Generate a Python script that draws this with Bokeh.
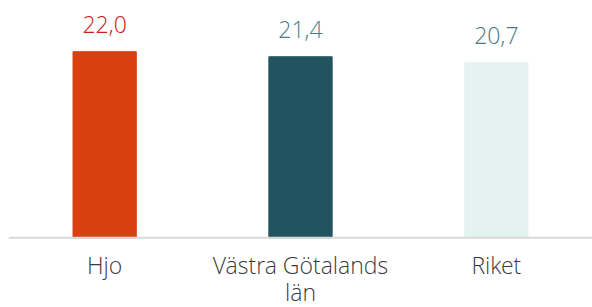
from bokeh.plotting import figure
from bokeh.models import ColumnDataSource, FactorRange, Range1d, Span
from bokeh.core.properties import value
from bokeh.embed import file_html
from bokeh.resources import INLINE

categories = ["Hjo", "Västra Götalands\nlän", "Riket"]
values = [22.0, 21.4, 20.7]
bar_colors = ["#d9400f", "#21545f", "#e4f3f0"]
label_colors = ["#cc2020", "#4a7c84", "#4a7c84"]
labels = [f"{v:.1f}".replace(".", ",") for v in values]
line1 = [c.split("\n")[0] for c in categories]
line2 = [c.split("\n")[1] if "\n" in c else "" for c in categories]

FONT = "Open Sans Light, Open Sans"

src = ColumnDataSource(dict(cat=categories, val=values, color=bar_colors,
                            lcolor=label_colors, label=labels,
                            l1=line1, l2=line2, zero=[0] * len(values)))

p = figure(width=592, height=307, output_backend="svg", toolbar_location=None,
           x_range=FactorRange(*categories, range_padding=-0.006),
           y_range=Range1d(-8.24, 28.05),
           min_border_left=8, min_border_right=0, min_border_top=0,
           min_border_bottom=0)

p.vbar(x="cat", top="val", width=0.323, color="color", source=src)
p.text(x="cat", y="val", text="label", text_color="lcolor", source=src,
       text_align="center", text_baseline="alphabetic", y_offset=-27,
       text_font=value(FONT), text_font_size="23px")

# category labels under the baseline
p.text(x="cat", y="zero", text="l1", source=src, text_color="#3a3a3a",
       text_align="center", text_baseline="alphabetic", y_offset=27.5,
       text_font=value(FONT), text_font_size="23px")
p.text(x="cat", y="zero", text="l2", source=src, text_color="#3a3a3a",
       text_align="center", text_baseline="alphabetic", y_offset=54,
       text_font=value(FONT), text_font_size="23px")

p.add_layout(Span(location=0, dimension="width", line_color="#d9d9d9",
                  line_width=2))

p.xaxis.visible = False
p.yaxis.visible = False
p.xgrid.visible = False
p.ygrid.visible = False
p.outline_line_color = None

open("out.html", "w").write(file_html(p, INLINE))
